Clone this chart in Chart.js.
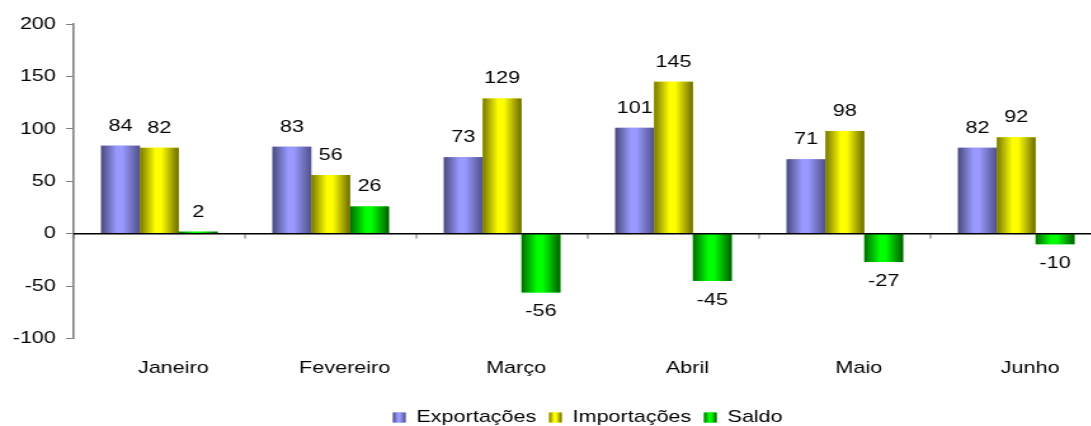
<!DOCTYPE html>
<html lang="pt">
<head>
<meta charset="UTF-8">
<title>Exportações, Importações e Saldo</title>
<script src="https://cdn.jsdelivr.net/npm/chart.js"></script>
<style>
    html, body {
        margin: 0;
        padding: 0;
        width: 1091px;
        height: 426px;
        overflow: hidden;
        background: #fff;
    }
    #grafico {
        display: block;
    }
</style>
</head>
<body>
<!-- the original chart is stretched sideways, so the canvas is drawn narrow and widened by css -->
<canvas id="grafico" width="924" height="436" style="width:1173px;height:436px"></canvas>
<script>
    const meses = ['Janeiro', 'Fevereiro', 'Março', 'Abril', 'Maio', 'Junho'];
    const exportacoes = [84, 83, 73, 101, 71, 82];
    const importacoes = [82, 56, 129, 145, 98, 92];
    const saldo = [2, 26, -56, -45, -27, -10];
    const yTicks = [-100, -50, 0, 50, 100, 150, 200];

    const fonte = "'Liberation Sans', Arial, sans-serif";
    Chart.defaults.font.family = fonte;
    Chart.defaults.font.size = 17;
    Chart.defaults.color = '#000';

    // dark edge, light middle, dark edge (cylinder look)
    const sombras = [
        ['#4a4a7c', '#9999ff', '#9999ff', '#50508a'],
        ['#777700', '#ffff00', '#ffff00', '#6a6a00'],
        ['#006c00', '#00ff00', '#00ff00', '#005c00']
    ];

    function gradiente(ctx, left, width, cores) {
        const g = ctx.createLinearGradient(left, 0, left + width, 0);
        g.addColorStop(0, cores[0]);
        g.addColorStop(0.4, cores[1]);
        g.addColorStop(0.55, cores[2]);
        g.addColorStop(1, cores[3]);
        return g;
    }

    const decor = {
        id: 'decor',
        afterDatasetsDraw(chart) {
            const ctx = chart.ctx;
            const xs = chart.scales.x;
            const ys = chart.scales.y;
            ctx.save();

            // shaded bars over the flat ones
            chart.data.datasets.forEach((ds, i) => {
                chart.getDatasetMeta(i).data.forEach(el => {
                    const p = el.getProps(['x', 'y', 'base', 'width'], true);
                    const left = p.x - p.width / 2;
                    ctx.fillStyle = gradiente(ctx, left, p.width, sombras[i]);
                    ctx.fillRect(left, Math.min(p.y, p.base), p.width, Math.abs(p.base - p.y));
                });
            });

            // zero line with small ticks between months
            const y0 = ys.getPixelForValue(0);
            const passo = xs.getPixelForValue(1) - xs.getPixelForValue(0);
            ctx.strokeStyle = '#707070';
            ctx.lineWidth = 1;
            for (let k = 0; k <= meses.length; k++) {
                const xb = xs.getPixelForValue(k) - passo / 2;
                ctx.beginPath();
                ctx.moveTo(xb, y0);
                ctx.lineTo(xb, y0 + 5);
                ctx.stroke();
            }
            ctx.strokeStyle = '#000';
            ctx.lineWidth = 1.3;
            ctx.beginPath();
            ctx.moveTo(chart.chartArea.left, y0);
            ctx.lineTo(chart.chartArea.right, y0);
            ctx.stroke();

            // value labels
            ctx.fillStyle = '#000';
            ctx.font = '17px ' + fonte;
            ctx.textAlign = 'center';
            ctx.textBaseline = 'alphabetic';
            chart.data.datasets.forEach((ds, i) => {
                chart.getDatasetMeta(i).data.forEach((el, j) => {
                    const v = ds.data[j];
                    const p = el.getProps(['x', 'y'], true);
                    ctx.fillText(String(v), p.x, v >= 0 ? p.y - 15 : p.y + 24);
                });
            });
            ctx.restore();
        },
        afterDraw(chart) {
            const lg = chart.legend;
            if (!lg || !lg.legendHitBoxes) return;
            const ctx = chart.ctx;
            const bw = lg.options.labels.boxWidth;
            const bh = lg.options.labels.boxHeight;
            lg.legendHitBoxes.forEach((hb, i) => {
                const top = hb.top + (hb.height - bh) / 2;
                ctx.fillStyle = gradiente(ctx, hb.left, bw, sombras[i]);
                ctx.fillRect(hb.left, top, bw, bh);
            });
        }
    };

    new Chart(document.getElementById('grafico'), {
        type: 'bar',
        data: {
            labels: meses,
            datasets: [
                { label: 'Exportações', data: exportacoes, backgroundColor: '#9999ff', borderWidth: 0 },
                { label: 'Importações', data: importacoes, backgroundColor: '#ffff00', borderWidth: 0 },
                { label: 'Saldo', data: saldo, backgroundColor: '#00ff00', borderWidth: 0 }
            ]
        },
        options: {
            responsive: false,
            animation: false,
            devicePixelRatio: 1,
            layout: { padding: { top: 24, left: 2, right: 56, bottom: 0 } },
            datasets: { bar: { categoryPercentage: 0.68, barPercentage: 1.0 } },
            scales: {
                x: {
                    grid: { display: false, drawTicks: false },
                    border: { display: false },
                    ticks: { padding: 20, labelOffset: 11, maxRotation: 0, autoSkip: false }
                },
                y: {
                    min: -100,
                    max: 200,
                    afterBuildTicks: s => { s.ticks = yTicks.map(v => ({ value: v })); },
                    grid: { drawOnChartArea: false, drawTicks: true, tickLength: 6, color: '#808080' },
                    border: { color: '#808080', width: 1.6 },
                    ticks: { padding: 8 }
                }
            },
            plugins: {
                legend: {
                    position: 'bottom',
                    fullSize: false,
                    labels: { boxWidth: 10, boxHeight: 10, padding: 10 }
                },
                tooltip: { enabled: false }
            }
        },
        plugins: [decor]
    });
</script>
</body>
</html>
